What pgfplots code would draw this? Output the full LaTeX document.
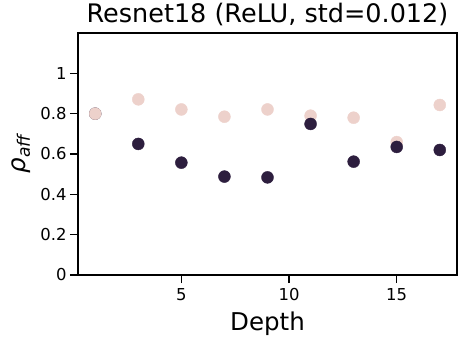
\documentclass[border=0pt]{standalone}
\usepackage{fontspec}
\setmainfont{DejaVu Sans}
\usepackage{pgfplots}
\pgfplotsset{compat=1.18}

\definecolor{lightpt}{RGB}{237,209,203}
\definecolor{darkpt}{RGB}{45,30,62}

\begin{document}
\begin{tikzpicture}
\begin{axis}[
    name=ax,
    scale only axis,
    width=379bp, height=242bp,
    xmin=0.2, xmax=17.8,
    ymin=0, ymax=1.2,
    xtick={5,10,15},
    ytick={0,0.2,0.4,0.6,0.8,1},
    /pgf/number format/assume math mode=true,
    tick label style={font=\fontsize{16.5}{19}\selectfont},
    xticklabel style={yshift=-2bp},
    label style={font=\fontsize{24.6}{28}\selectfont},
    title style={font=\fontsize{25.6}{29}\selectfont, yshift=-2bp},
    title={Resnet18 (ReLU, std=0.012)},
    xlabel={Depth},
    ylabel={{\itshape ρ\textsubscript{aff}}},
    xlabel style={yshift=-4bp},
    ylabel style={yshift=3bp},
    tick align=outside,
    tick pos=left,
    major tick length=8bp,
    every tick/.style={black, line width=1.4pt},
    axis line style={line width=1.6pt},
    clip=false,
]
% dark point at depth 1 sits under the light one
\addplot[only marks, mark=*, mark size=6bp, color=darkpt] coordinates {(1,0.80)};
\addplot[only marks, mark=*, mark size=6bp, color=lightpt] coordinates {
(1,0.800) (3,0.871) (5,0.821) (7,0.785) (9,0.821) (11,0.790) (13,0.780) (15,0.659) (17,0.843)
};
\addplot[only marks, mark=*, mark size=6bp, color=darkpt] coordinates {
(3,0.650) (5,0.557) (7,0.488) (9,0.484) (11,0.749) (13,0.562) (15,0.635) (17,0.620)
};
\end{axis}
\pgfresetboundingbox
\path ([xshift=-78bp,yshift=-68bp]ax.south west) rectangle ([xshift=9bp,yshift=33bp]ax.north east);
\end{tikzpicture}
\end{document}
